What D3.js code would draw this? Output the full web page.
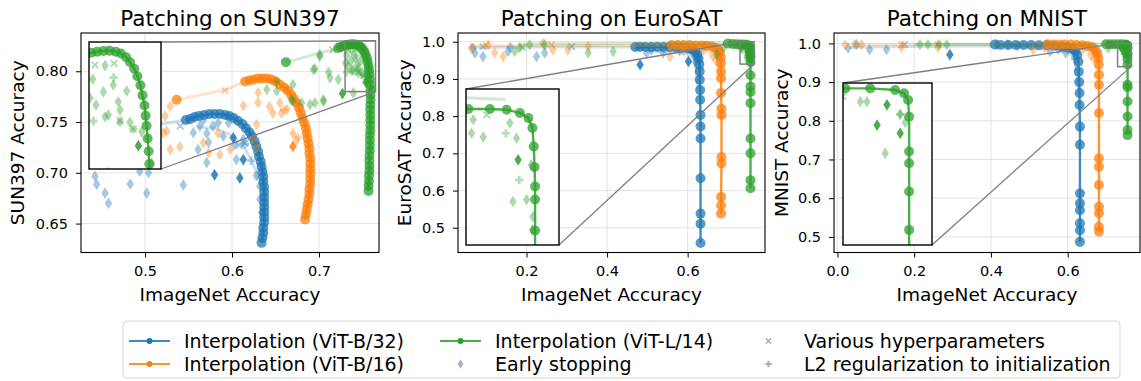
<!DOCTYPE html>
<html>
<head>
<meta charset="utf-8">
<script src="https://cdn.jsdelivr.net/npm/d3@7"></script>
<style>
  body { margin: 0; background: #fff; }
  svg text { font-family: "DejaVu Sans", sans-serif; }
</style>
</head>
<body>
<div id="chart"></div>
<script>
/* Model order in every per-model list: ViT-B/32, ViT-B/16, ViT-L/14 */
const models = ["ViT-B/32", "ViT-B/16", "ViT-L/14"];

/* ---------- SUN397 ---------- */
const sunXLim = [0.4264, 0.769];
const sunYLim = [0.6215, 0.8377];
const sunXTicks = [0.5, 0.6, 0.7];
const sunYTicks = [0.65, 0.70, 0.75, 0.80];
const sunZoomX = [0.73, 0.765];
const sunZoomY = [0.78, 0.83];

const sunInterp = [
  [[0.634,0.631],[0.635,0.636],[0.636,0.641],[0.636,0.646],[0.637,0.651],[0.637,0.656],[0.637,0.661],[0.637,0.666],[0.637,0.671],[0.637,0.676],[0.637,0.681],[0.637,0.686],[0.636,0.691],[0.636,0.696],[0.635,0.701],[0.634,0.706],[0.633,0.711],[0.631,0.716],[0.630,0.721],[0.628,0.726],[0.626,0.731],[0.623,0.736],[0.620,0.740],[0.616,0.744],[0.612,0.748],[0.607,0.751],[0.602,0.754],[0.597,0.756],[0.592,0.757],[0.586,0.758],[0.580,0.758],[0.574,0.758],[0.568,0.757],[0.562,0.756],[0.557,0.755],[0.552,0.753],[0.547,0.752]],
  [[0.684,0.654],[0.685,0.659],[0.686,0.664],[0.687,0.669],[0.688,0.674],[0.689,0.679],[0.689,0.684],[0.690,0.689],[0.690,0.694],[0.690,0.699],[0.690,0.704],[0.690,0.709],[0.690,0.714],[0.689,0.719],[0.689,0.724],[0.688,0.729],[0.687,0.734],[0.686,0.739],[0.685,0.744],[0.683,0.749],[0.681,0.754],[0.679,0.759],[0.677,0.764],[0.674,0.769],[0.671,0.773],[0.668,0.777],[0.664,0.781],[0.660,0.784],[0.655,0.787],[0.650,0.790],[0.645,0.792],[0.640,0.793],[0.635,0.793],[0.630,0.793],[0.625,0.792],[0.620,0.791],[0.615,0.790]],
  [[0.757,0.682],[0.757,0.687],[0.7575,0.692],[0.7575,0.697],[0.758,0.702],[0.758,0.707],[0.758,0.712],[0.758,0.717],[0.7585,0.722],[0.7585,0.727],[0.7585,0.732],[0.7585,0.737],[0.759,0.742],[0.759,0.747],[0.759,0.752],[0.759,0.757],[0.759,0.762],[0.759,0.767],[0.7593,0.772],[0.7593,0.777],[0.7593,0.782],[0.759,0.787],[0.7585,0.792],[0.758,0.797],[0.7575,0.801],[0.757,0.805],[0.756,0.809],[0.755,0.813],[0.7535,0.8165],[0.752,0.8195],[0.750,0.822],[0.748,0.824],[0.7455,0.8255],[0.743,0.8262],[0.740,0.8266],[0.737,0.8265],[0.734,0.8262],[0.731,0.8258],[0.728,0.825],[0.725,0.824],[0.722,0.823]]
];
const sunFaint = [
  [[[0.44,0.742],[0.47,0.744],[0.50,0.746],[0.52,0.748],[0.546,0.752]],
   [[0.56,0.745],[0.58,0.744],[0.595,0.739],[0.607,0.731],[0.616,0.722],[0.622,0.713],[0.627,0.703],[0.630,0.693]]],
  [[[0.5364,0.772],[0.56,0.776],[0.594,0.782],[0.615,0.790]]],
  [[[0.662,0.809],[0.68,0.813],[0.70,0.818],[0.715,0.821],[0.723,0.823]]]
];
const sunEnds = [[], [[0.5364,0.772]], [[0.662,0.809]]];
const sunHparam = [
  [[0.5405,0.746],[0.608,0.727],[0.615,0.729]],
  [[0.592,0.781],[0.651,0.790]],
  [[0.716,0.821],[0.7329,0.8209],[0.7422,0.8216],[0.7515,0.7957],[0.745,0.799]]
];
const sunEarly = [
  [[0.4425,0.6967],[0.4445,0.6885],[0.454,0.680],[0.458,0.670],[0.483,0.689],[0.502,0.680],[0.504,0.700],[0.494,0.7016],[0.544,0.688],[0.571,0.710],[0.563,0.746],[0.567,0.752],[0.578,0.746],[0.584,0.749],[0.596,0.749],[0.571,0.739],[0.590,0.736],[0.561,0.723],[0.573,0.730],[0.603,0.728],[0.613,0.733],[0.605,0.713],[0.628,0.697],[0.632,0.687],[0.632,0.674],[0.634,0.661],[0.5555,0.7394]],
  [[0.521,0.7394],[0.529,0.7655],[0.523,0.756],[0.525,0.741],[0.529,0.723],[0.540,0.7256],[0.567,0.7295],[0.584,0.739],[0.573,0.7197],[0.586,0.718],[0.598,0.723],[0.613,0.766],[0.630,0.779],[0.630,0.769],[0.6283,0.7475],[0.647,0.759],[0.657,0.759],[0.663,0.7623],[0.670,0.739],[0.674,0.732],[0.655,0.769],[0.6245,0.733],[0.628,0.7246],[0.643,0.765]],
  [[0.701,0.8148],[0.6954,0.8024],[0.711,0.799],[0.7305,0.808],[0.7053,0.7705],[0.6897,0.7672],[0.680,0.769],[0.670,0.7705],[0.6935,0.8017],[0.701,0.8164],[0.7127,0.7935],[0.7222,0.7918],[0.640,0.782],[0.6514,0.790],[0.6514,0.7803],[0.668,0.772],[0.6954,0.769],[0.705,0.772],[0.7395,0.7787],[0.670,0.787],[0.7378,0.8207],[0.7318,0.8154],[0.7418,0.8131],[0.737,0.8104],[0.7483,0.8107],[0.7334,0.8052],[0.7442,0.8065],[0.7451,0.8032],[0.7394,0.8013],[0.7378,0.8006],[0.7451,0.7986],[0.7499,0.7984],[0.7556,0.7947],[0.7605,0.7822]]
];
const sunEarlyDark = [
  [[0.580,0.698],[0.613,0.713],[0.609,0.695],[0.6015,0.7345]],
  [[0.670,0.726]],
  [[0.727,0.778],[0.754,0.7892]]
];
const sunL2 = [
  [[0.615,0.728],[0.622,0.712]],
  [[0.660,0.762],[0.676,0.735]],
  [[0.7321,0.7989],[0.7515,0.7957],[0.742,0.816]]
];

/* ---------- EuroSAT ---------- */
const euroXLim = [0.030, 0.792];
const euroYLim = [0.4335, 1.0235];
const euroXTicks = [0.2, 0.4, 0.6];
const euroYTicks = [0.5, 0.6, 0.7, 0.8, 0.9, 1.0];
const euroZoomX = [0.73, 0.765];
const euroZoomY = [0.94, 1.0];

const euroInterp = [
  [[0.632,0.459],[0.632,0.511],[0.632,0.538],[0.632,0.633],[0.632,0.740],[0.632,0.772],[0.632,0.803],[0.631,0.844],[0.631,0.870],[0.630,0.898],[0.630,0.920],[0.629,0.940],[0.627,0.955],[0.624,0.966],[0.619,0.974],[0.610,0.979],[0.600,0.982],[0.585,0.984],[0.570,0.985],[0.555,0.985],[0.540,0.986],[0.525,0.986],[0.510,0.986],[0.495,0.986],[0.482,0.986],[0.470,0.986]],
  [[0.683,0.538],[0.683,0.560],[0.683,0.583],[0.684,0.673],[0.684,0.690],[0.684,0.803],[0.684,0.820],[0.683,0.862],[0.683,0.902],[0.683,0.920],[0.683,0.943],[0.682,0.958],[0.680,0.970],[0.676,0.978],[0.670,0.983],[0.660,0.987],[0.648,0.989],[0.635,0.990],[0.620,0.990],[0.605,0.991],[0.590,0.991],[0.575,0.991],[0.560,0.991]],
  [[0.756,0.606],[0.756,0.628],[0.756,0.700],[0.756,0.740],[0.756,0.835],[0.756,0.865],[0.756,0.880],[0.756,0.910],[0.756,0.9456],[0.756,0.9575],[0.756,0.9625],[0.7558,0.970],[0.7555,0.9779],[0.755,0.985],[0.7535,0.9888],[0.7503,0.9908],[0.7453,0.992],[0.739,0.9923],[0.7309,0.9923],[0.722,0.993],[0.712,0.994],[0.700,0.995]]
];
const euroFaint = [
  [[[0.06,0.985],[0.25,0.986],[0.45,0.986],[0.62,0.984],[0.629,0.96],[0.631,0.90]],
   [[0.50,0.975],[0.58,0.972],[0.605,0.965],[0.615,0.950],[0.622,0.920],[0.626,0.870]]],
  [[[0.06,0.989],[0.30,0.990],[0.50,0.990],[0.66,0.989],[0.678,0.975],[0.682,0.95]],
   [[0.58,0.982],[0.645,0.978],[0.668,0.968],[0.676,0.945],[0.680,0.900]]],
  [[[0.18,0.994],[0.40,0.995],[0.60,0.996],[0.72,0.997],[0.745,0.996]]]
];
const euroEnds = [[], [], []];
const euroHparam = [
  [[0.312,0.987],[0.092,0.987]],
  [[0.262,0.992],[0.100,0.990]],
  [[0.7378,0.990],[0.190,0.985]]
];
const euroEarly = [
  [[0.067,0.983],[0.072,0.970],[0.092,0.960],[0.154,0.974],[0.160,0.985],[0.225,0.960],[0.245,0.970],[0.498,0.970],[0.539,0.970],[0.510,0.978],[0.580,0.975],[0.615,0.965],[0.620,0.945]],
  [[0.063,0.983],[0.105,0.992],[0.121,0.970],[0.142,0.960],[0.241,0.996],[0.266,0.978],[0.303,0.978],[0.353,0.987],[0.556,0.960],[0.590,0.975],[0.640,0.978],[0.662,0.962],[0.670,0.950]],
  [[0.171,0.974],[0.183,0.983],[0.208,0.992],[0.245,0.992],[0.353,0.970],[0.415,0.974],[0.672,0.965],[0.690,0.985],[0.7327,0.9882],[0.7321,0.983],[0.7365,0.9815],[0.7465,0.9869],[0.749,0.9811],[0.7546,0.9708],[0.7477,0.9567],[0.7528,0.9574],[0.7552,0.9509],[0.755,0.9458]]
];
const euroEarlyDark = [
  [[0.482,0.938],[0.602,0.947]],
  [],
  [[0.7496,0.9728]]
];
const euroL2 = [
  [[0.630,0.930],[0.625,0.955]],
  [[0.680,0.935]],
  [[0.750,0.965],[0.745,0.983]]
];

/* ---------- MNIST ---------- */
const mnistXLim = [-0.0089, 0.7885];
const mnistYLim = [0.4596, 1.0269];
const mnistXTicks = [0.0, 0.2, 0.4, 0.6];
const mnistYTicks = [0.5, 0.6, 0.7, 0.8, 0.9, 1.0];
const mnistZoomX = [0.73, 0.765];
const mnistZoomY = [0.94, 1.0];

const mnistInterp = [
  [[0.632,0.487],[0.632,0.517],[0.632,0.535],[0.632,0.569],[0.632,0.587],[0.632,0.612],[0.632,0.738],[0.632,0.785],[0.631,0.841],[0.631,0.872],[0.630,0.900],[0.629,0.927],[0.628,0.953],[0.625,0.970],[0.620,0.980],[0.612,0.986],[0.600,0.990],[0.585,0.992],[0.565,0.994],[0.545,0.995],[0.525,0.995],[0.505,0.996],[0.485,0.996],[0.465,0.996],[0.445,0.996],[0.425,0.996],[0.410,0.997]],
  [[0.6815,0.513],[0.6815,0.526],[0.6815,0.561],[0.6815,0.578],[0.6815,0.634],[0.6815,0.681],[0.6815,0.703],[0.6815,0.820],[0.6815,0.893],[0.6815,0.919],[0.681,0.945],[0.680,0.962],[0.677,0.975],[0.672,0.984],[0.664,0.990],[0.652,0.993],[0.638,0.995],[0.623,0.996],[0.608,0.997],[0.593,0.997],[0.578,0.997],[0.563,0.997],[0.548,0.998]],
  [[0.756,0.763],[0.756,0.776],[0.756,0.811],[0.756,0.850],[0.756,0.887],[0.756,0.893],[0.756,0.9456],[0.756,0.9598],[0.756,0.9703],[0.756,0.9746],[0.756,0.9875],[0.7556,0.9937],[0.7540,0.9962],[0.7505,0.9974],[0.7407,0.998],[0.7309,0.998],[0.720,0.998],[0.710,0.998],[0.700,0.998]]
];
const mnistFaint = [
  [[[0.03,0.990],[0.20,0.992],[0.40,0.994],[0.58,0.990],[0.615,0.975],[0.625,0.93]],
   [[0.57,0.985],[0.605,0.975],[0.618,0.955],[0.625,0.92],[0.628,0.88]]],
  [[[0.04,0.996],[0.20,0.997],[0.40,0.997],[0.60,0.997],[0.675,0.990],[0.680,0.96]]],
  [[[0.20,0.998],[0.40,0.998],[0.60,0.998],[0.72,0.999]]]
];
const mnistEnds = [[], [], []];
const mnistHparam = [
  [[0.175,0.997]],
  [[0.167,0.997],[0.262,0.997]],
  [[0.730,0.995]]
];
const mnistEarly = [
  [[0.028,0.988],[0.084,0.984],[0.128,0.984],[0.050,0.997],[0.415,0.997],[0.444,0.997],[0.470,0.994],[0.554,0.979],[0.575,0.985],[0.600,0.990],[0.595,0.975]],
  [[0.045,0.997],[0.063,0.997],[0.020,0.996],[0.167,0.990],[0.262,0.990],[0.510,0.984],[0.540,0.990],[0.640,0.985],[0.660,0.970],[0.668,0.960]],
  [[0.215,0.997],[0.236,0.997],[0.264,0.997],[0.285,0.997],[0.706,0.988],[0.7368,0.9931],[0.7394,0.9931],[0.7466,0.974],[0.7525,0.9884],[0.7545,0.9854]]
];
const mnistEarlyDark = [
  [[0.293,0.971]],
  [],
  [[0.7473,0.9919],[0.7434,0.9844],[0.7525,0.9814]]
];
const mnistL2 = [
  [[0.620,0.960]],
  [[0.672,0.975]],
  [[0.7525,0.9884]]
];

/* ---------- legend ---------- */
const legendLabels = [
  "Interpolation (ViT-B/32)", "Interpolation (ViT-B/16)",
  "Interpolation (ViT-L/14)", "Early stopping",
  "Various hyperparameters", "L2 regularization to initialization"
];

/* ---------- layout ---------- */
const W = 1141, H = 381;
const colors = ["#1f77b4", "#ff7f0e", "#2ca02c"];
const plotTop = 33, plotBottom = 252.5;

const panels = [
  { title: "Patching on SUN397", ylabel: "SUN397 Accuracy", left: 81, right: 379, ylabX: 18,
    xLim: sunXLim, yLim: sunYLim, xTicks: sunXTicks, yTicks: sunYTicks, yFmt: d3.format(".2f"),
    interp: sunInterp, faint: sunFaint, ends: sunEnds, hparam: sunHparam, early: sunEarly, earlyDark: sunEarlyDark, l2: sunL2,
    zoomX: sunZoomX, zoomY: sunZoomY, inset: [89, 42, 161, 169], links: [["tr", "tr"], ["br", "br"]] },
  { title: "Patching on EuroSAT", ylabel: "EuroSAT Accuracy", left: 458, right: 765, ylabX: 405,
    xLim: euroXLim, yLim: euroYLim, xTicks: euroXTicks, yTicks: euroYTicks, yFmt: d3.format(".1f"),
    interp: euroInterp, faint: euroFaint, ends: euroEnds, hparam: euroHparam, early: euroEarly, earlyDark: euroEarlyDark, l2: euroL2,
    zoomX: euroZoomX, zoomY: euroZoomY, inset: [466, 89, 559, 245], links: [["tl", "tl"], ["br", "br"]] },
  { title: "Patching on MNIST", ylabel: "MNIST Accuracy", left: 834, right: 1140, ylabX: 782,
    xLim: mnistXLim, yLim: mnistYLim, xTicks: mnistXTicks, yTicks: mnistYTicks, yFmt: d3.format(".1f"),
    interp: mnistInterp, faint: mnistFaint, ends: mnistEnds, hparam: mnistHparam, early: mnistEarly, earlyDark: mnistEarlyDark, l2: mnistL2,
    zoomX: mnistZoomX, zoomY: mnistZoomY, inset: [843, 83, 932, 245], links: [["tl", "tl"], ["br", "br"]] }
];

const svg = d3.select("#chart").append("svg")
  .attr("width", W).attr("height", H)
  .style("background", "#fff");
const defs = svg.append("defs");

const diamond = "M0,-5.8L3.7,0L0,5.8L-3.7,0Z";
const plusP = "M-1.4,-4.2H1.4V-1.4H4.2V1.4H1.4V4.2H-1.4V1.4H-4.2V-1.4H-1.4Z";
const cross = "M-3.3,-3.3L3.3,3.3M-3.3,3.3L3.3,-3.3";

// draws every series of one panel with the given scales
function drawData(g, x, y, p) {
  const line = d3.line().x(d => x(d[0])).y(d => y(d[1]));
  models.forEach((m, i) => {
    const c = colors[i];
    p.faint[i].forEach(pts => {
      g.append("path").attr("d", line(pts)).attr("fill", "none")
        .attr("stroke", c).attr("stroke-width", 3).attr("stroke-opacity", 0.22);
    });
    g.selectAll(null).data(p.early[i]).enter().append("path")
      .attr("d", diamond).attr("transform", d => `translate(${x(d[0])},${y(d[1])})`)
      .attr("fill", c).attr("fill-opacity", 0.4);
    g.selectAll(null).data(p.l2[i]).enter().append("path")
      .attr("d", plusP).attr("transform", d => `translate(${x(d[0])},${y(d[1])})`)
      .attr("fill", c).attr("fill-opacity", 0.35);
    g.selectAll(null).data(p.hparam[i]).enter().append("path")
      .attr("d", cross).attr("transform", d => `translate(${x(d[0])},${y(d[1])})`)
      .attr("stroke", c).attr("stroke-width", 1.8).attr("stroke-opacity", 0.4).attr("fill", "none");
    g.selectAll(null).data(p.earlyDark[i]).enter().append("path")
      .attr("d", diamond).attr("transform", d => `translate(${x(d[0])},${y(d[1])})`)
      .attr("fill", c).attr("fill-opacity", 0.85);
    g.append("path").attr("d", line(p.interp[i])).attr("fill", "none")
      .attr("stroke", c).attr("stroke-width", 2.4).attr("stroke-opacity", 0.85);
    g.selectAll(null).data(p.interp[i].concat(p.ends[i])).enter().append("circle")
      .attr("cx", d => x(d[0])).attr("cy", d => y(d[1])).attr("r", 5)
      .attr("fill", c).attr("fill-opacity", 0.75);
  });
}

panels.forEach((p, k) => {
  const x = d3.scaleLinear().domain(p.xLim).range([p.left, p.right]);
  const y = d3.scaleLinear().domain(p.yLim).range([plotBottom, plotTop]);
  const g = svg.append("g");

  // grid
  g.selectAll(null).data(p.xTicks).enter().append("line")
    .attr("x1", d => x(d)).attr("x2", d => x(d)).attr("y1", plotTop).attr("y2", plotBottom)
    .attr("stroke", "#e3e3e3").attr("stroke-width", 1);
  g.selectAll(null).data(p.yTicks).enter().append("line")
    .attr("y1", d => y(d)).attr("y2", d => y(d)).attr("x1", p.left).attr("x2", p.right)
    .attr("stroke", "#e3e3e3").attr("stroke-width", 1);

  // data, clipped to the axes
  defs.append("clipPath").attr("id", "clip" + k).append("rect")
    .attr("x", p.left).attr("y", plotTop).attr("width", p.right - p.left).attr("height", plotBottom - plotTop);
  drawData(g.append("g").attr("clip-path", `url(#clip${k})`), x, y, p);

  // zoom rectangle and connectors
  const rx0 = x(p.zoomX[0]), rx1 = x(p.zoomX[1]), ry0 = y(p.zoomY[1]), ry1 = y(p.zoomY[0]);
  const [ix0, iy0, ix1, iy1] = p.inset;
  const corner = (c, a) => ({
    tl: [a[0], a[1]], tr: [a[2], a[1]], bl: [a[0], a[3]], br: [a[2], a[3]]
  })[c];
  p.links.forEach(([ci, cr]) => {
    const a = corner(ci, [ix0, iy0, ix1, iy1]), b = corner(cr, [rx0, ry0, rx1, ry1]);
    g.append("line").attr("x1", a[0]).attr("y1", a[1]).attr("x2", b[0]).attr("y2", b[1])
      .attr("stroke", "#7f7f7f").attr("stroke-width", 1.3);
  });
  g.append("rect").attr("x", rx0).attr("y", ry0).attr("width", rx1 - rx0).attr("height", ry1 - ry0)
    .attr("fill", "none").attr("stroke", "#7f7f7f").attr("stroke-width", 1.5);

  // inset
  const ix = d3.scaleLinear().domain(p.zoomX).range([ix0, ix1]);
  const iy = d3.scaleLinear().domain(p.zoomY).range([iy1, iy0]);
  const ig = g.append("g");
  ig.append("rect").attr("x", ix0).attr("y", iy0).attr("width", ix1 - ix0).attr("height", iy1 - iy0)
    .attr("fill", "#fff");
  defs.append("clipPath").attr("id", "iclip" + k).append("rect")
    .attr("x", ix0).attr("y", iy0).attr("width", ix1 - ix0).attr("height", iy1 - iy0);
  drawData(ig.append("g").attr("clip-path", `url(#iclip${k})`), ix, iy, p);
  ig.append("rect").attr("x", ix0).attr("y", iy0).attr("width", ix1 - ix0).attr("height", iy1 - iy0)
    .attr("fill", "none").attr("stroke", "#000").attr("stroke-width", 1.4);

  // axes
  const ax = g.append("g").attr("transform", `translate(0,${plotBottom})`)
    .call(d3.axisBottom(x).tickValues(p.xTicks).tickFormat(d3.format(".1f")).tickSize(5).tickPadding(8));
  const ay = g.append("g").attr("transform", `translate(${p.left},0)`)
    .call(d3.axisLeft(y).tickValues(p.yTicks).tickFormat(p.yFmt).tickSize(5).tickPadding(8));
  [ax, ay].forEach(a => {
    a.select(".domain").remove();
    a.selectAll("text").attr("font-size", 14.5).attr("fill", "#000")
      .attr("font-family", "DejaVu Sans");
    a.selectAll("line").attr("stroke", "#000").attr("stroke-width", 1);
  });
  g.append("rect").attr("x", p.left).attr("y", plotTop).attr("width", p.right - p.left).attr("height", plotBottom - plotTop)
    .attr("fill", "none").attr("stroke", "#000").attr("stroke-width", 1.1);

  // labels
  const cx = (p.left + p.right) / 2;
  g.append("text").attr("x", cx).attr("y", 26).attr("text-anchor", "middle")
    .attr("font-size", 21.5).text(p.title);
  g.append("text").attr("x", cx).attr("y", 301).attr("text-anchor", "middle")
    .attr("font-size", 18.5).text("ImageNet Accuracy");
  g.append("text").attr("transform", `translate(${p.ylabX + 6},${(plotTop + plotBottom) / 2}) rotate(-90)`)
    .attr("text-anchor", "middle").attr("font-size", 18.5).text(p.ylabel);
});

// legend
const lg = svg.append("g");
lg.append("rect").attr("x", 123).attr("y", 321).attr("width", 997).attr("height", 57).attr("rx", 4)
  .attr("fill", "#fff").attr("stroke", "#d5d5d5").attr("stroke-width", 1);
const rowY = [341, 364];
const entries = [
  { kind: "line", color: colors[0], hx: 129, tx: 184, row: 0 },
  { kind: "line", color: colors[1], hx: 129, tx: 184, row: 1 },
  { kind: "line", color: colors[2], hx: 440, tx: 495, row: 0 },
  { kind: "diamond", color: "#aab4c3", hx: 440, tx: 495, row: 1 },
  { kind: "cross", color: "#aab4c3", hx: 748, tx: 804, row: 0 },
  { kind: "plus", color: "#aab4c3", hx: 748, tx: 804, row: 1 }
];
entries.forEach((e, i) => {
  const yy = rowY[e.row];
  if (e.kind === "line") {
    lg.append("line").attr("x1", e.hx).attr("x2", e.hx + 41).attr("y1", yy).attr("y2", yy)
      .attr("stroke", e.color).attr("stroke-width", 2).attr("stroke-opacity", 0.85);
    lg.append("circle").attr("cx", e.hx + 20.5).attr("cy", yy).attr("r", 3).attr("fill", e.color);
  } else {
    const hx = e.hx + 20.5;
    const path = e.kind === "diamond" ? diamond : e.kind === "plus" ? plusP : cross;
    const m = lg.append("path").attr("d", path).attr("transform", `translate(${hx},${yy}) scale(0.8)`);
    if (e.kind === "cross") m.attr("stroke", e.color).attr("stroke-width", 2).attr("fill", "none");
    else m.attr("fill", e.color);
  }
  lg.append("text").attr("x", e.tx).attr("y", yy).attr("dy", "0.35em")
    .attr("font-size", 19).text(legendLabels[i]);
});
</script>
</body>
</html>
